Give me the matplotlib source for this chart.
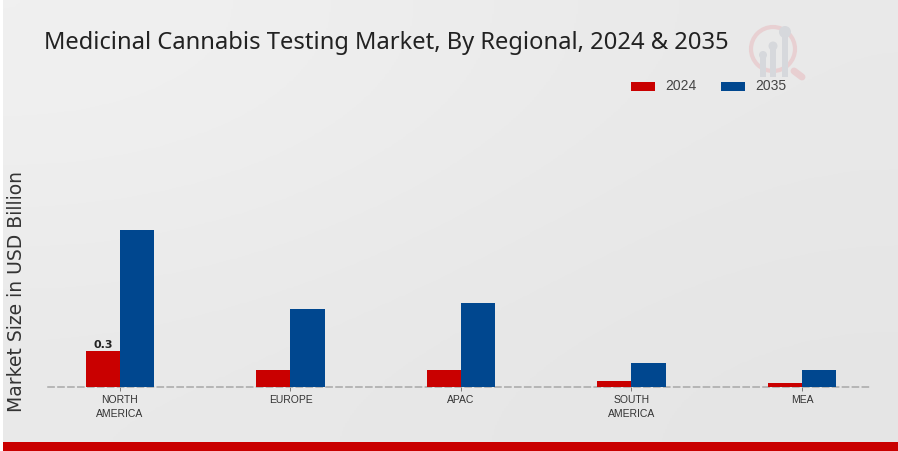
import numpy as np
import matplotlib
matplotlib.use('Agg')
import matplotlib.pyplot as plt
from matplotlib.patches import Circle, Rectangle

regions = ['NORTH\nAMERICA', 'EUROPE', 'APAC', 'SOUTH\nAMERICA', 'MEA']
values_2024 = [0.3, 0.145, 0.145, 0.05, 0.03]
values_2035 = [1.31, 0.65, 0.70, 0.2, 0.145]

RED = '#c90000'
BLUE = '#00478f'
W, H = 898, 451

plt.rcParams['font.family'] = ['DejaVu Sans']
fig = plt.figure(figsize=(W / 100, H / 100), dpi=100, facecolor='white')

# page background, a soft diagonal grey
bg = fig.add_axes([3 / W, 0, 1 - 3 / W, 1], zorder=0)
bg.imshow([[0.94, 0.91], [0.91, 0.895]], cmap='gray', vmin=0, vmax=1,
          interpolation='bicubic', aspect='auto', extent=(0, 1, 0, 1))
bg.axis('off')

# red strip along the bottom
fig.add_artist(Rectangle((3 / W, 0), 1 - 3 / W, 9 / H, transform=fig.transFigure,
                         color=RED, lw=0, zorder=1))

# chart area, pixel box 48..872 x 100..387
ax = fig.add_axes([48 / W, 1 - 387 / H, 824 / W, 287 / H], zorder=2)
ax.patch.set_alpha(0)
x = np.arange(len(regions))
bar_w = 0.2
ax.bar(x - bar_w / 2, values_2024, bar_w, color=RED, label='2024', zorder=3)
ax.bar(x + bar_w / 2, values_2035, bar_w, color=BLUE, label='2035', zorder=3)
ax.set_xlim(-0.422, 4.411)
ax.set_ylim(0, 287 / 120)

for s in ['top', 'right', 'left']:
    ax.spines[s].set_visible(False)
ax.spines['bottom'].set_linestyle((0, (4, 2.5)))
ax.spines['bottom'].set_color('#a8a8a8')
ax.spines['bottom'].set_linewidth(1.1)
ax.set_yticks([])
ax.set_xticks(x)
ax.set_xticklabels(regions, fontsize=7.5, color='#333333', linespacing=1.45,
                   family='Liberation Sans')
ax.tick_params(axis='x', length=3, width=0.7, color='#777777', pad=3)

ax.text(x[0] - bar_w / 2, values_2024[0] + 0.012, '0.3', ha='center', va='bottom',
        fontsize=8, fontweight='bold', color='#222222')

fig.text(17 / W, 1 - 291.5 / H, 'Market Size in USD Billion', rotation=90, ha='center',
         va='center', fontsize=13.5, color='#333333')
fig.text(44 / W, 1 - 43 / H, 'Medicinal Cannabis Testing Market, By Regional, 2024 & 2035',
         ha='left', va='center', fontsize=17.1, color='#222222', family='Noto Sans')

# legend
for px, colour, label in [(631, RED, '2024'), (721, BLUE, '2035')]:
    fig.add_artist(Rectangle((px / W, 1 - 91 / H), 24 / W, 9 / H, transform=fig.transFigure,
                             color=colour, lw=0, zorder=3))
    fig.text((px + 34) / W, 1 - 86 / H, label, ha='left', va='center', fontsize=10,
             color='#444444', family='Liberation Sans')

# faint magnifier logo in the corner
logo = fig.add_axes([740 / W, 1 - 90 / H, 80 / W, 80 / H], zorder=1)
logo.set_xlim(740, 820)
logo.set_ylim(90, 10)
logo.axis('off')
logo.add_patch(Circle((773, 49), 22, fill=False, ec='#e8d0d2', lw=3))
logo.plot([794, 802], [71, 77], color='#e8cfd1', lw=5, solid_capstyle='round')
for cx, top, r in [(763, 55, 4), (773, 46, 4.5), (785, 32, 6)]:
    logo.add_patch(Circle((cx, top), r, color='#d6d8dc', lw=0))
    logo.add_patch(Rectangle((cx - 3, top), 6, 77 - top, color='#d6d8dc', lw=0))

fig.savefig('out.png', dpi=100)
